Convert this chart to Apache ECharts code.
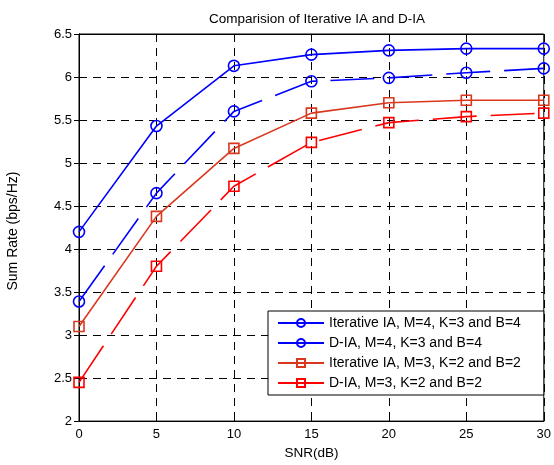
<!DOCTYPE html>
<html><head><meta charset="utf-8">
<script src="https://cdn.jsdelivr.net/npm/echarts@6/dist/echarts.min.js"></script>
<style>html,body{margin:0;padding:0;background:#fff}#c{width:554px;height:465px}</style>
</head><body><div id="c"></div>
<script>
const snr = [0, 5, 10, 15, 20, 25, 30];
const iterIA_M4 = [4.20, 5.43, 6.13, 6.26, 6.31, 6.33, 6.33];
const dIA_M4 = [3.39, 4.65, 5.60, 5.95, 5.99, 6.05, 6.10];
const iterIA_M3 = [3.10, 4.38, 5.17, 5.58, 5.70, 5.73, 5.73];
const dIA_M3 = [2.45, 3.80, 4.73, 5.24, 5.47, 5.54, 5.58];
const seriesNames = ['Iterative IA, M=4, K=3 and B=4','D-IA, M=4, K=3 and B=4','Iterative IA, M=3, K=2 and B=2','D-IA, M=3, K=2 and B=2'];

const font = 'Liberation Sans, Arial, sans-serif';
function mk(name, data, color, symbol, dashed){
  return {
    name, type:'line', data: snr.map((x,i)=>[x,data[i]]),
    symbol, symbolSize: symbol==='circle'?11:10, showAllSymbol:true,
    lineStyle:{color, width:1.6, type: dashed?[44,14]:'solid'},
    itemStyle:{color:'rgba(255,255,255,0)', borderColor:color, borderWidth:1.6},
    emphasis:{disabled:true}, animation:false, z:5
  };
}
const chart = echarts.init(document.getElementById('c'));
const axisCommon = {
  axisLine:{show:true, lineStyle:{color:'#000', width:1}},
  axisTick:{show:true, inside:true, length:5, lineStyle:{color:'#000'}},
  axisLabel:{color:'#000', fontSize:13, fontFamily:font, margin:7},
  splitLine:{show:true, lineStyle:{color:'#000', type:[8,6], width:1}}
};
chart.setOption({
  animation:false,
  title:{text:'Comparision of Iterative IA and D-IA', left:312, top:7, textAlign:'center',
    textStyle:{fontSize:13.5, fontWeight:'normal', color:'#000', fontFamily:font}},
  graphic:[{type:'text', x:13, y:231, rotation:Math.PI/2,
    style:{text:'Sum Rate (bps/Hz)', fontSize:14, fontFamily:font, fill:'#000', align:'center', verticalAlign:'middle'}}],
  grid:{left:79, right:7, top:34, bottom:39, show:true, borderColor:'#000', borderWidth:1, backgroundColor:'#fff'},
  legend:{
    data: seriesNames, orient:'vertical', left:268, top:311,
    backgroundColor:'#fff', borderColor:'#000', borderWidth:1,
    padding:[5,23,5,9], itemGap:6, itemWidth:46, itemHeight:10,
    textStyle:{fontSize:14, color:'#000', fontFamily:font},
    lineStyle:{type:'solid'}
  },
  xAxis:[
    Object.assign({type:'value', min:0, max:30, interval:5, name:'SNR(dB)', nameLocation:'middle', nameGap:23,
      nameTextStyle:{fontSize:13.5, color:'#000', fontFamily:font}}, axisCommon),
    {type:'value', position:'top', min:0, max:30, interval:5, axisLine:{show:true,lineStyle:{color:'#000'}},
      axisTick:{show:true, inside:true, length:5, lineStyle:{color:'#000'}}, axisLabel:{show:false}, splitLine:{show:false}}
  ],
  yAxis:[
    Object.assign({type:'value', min:2, max:6.5, interval:0.5}, axisCommon),
    {type:'value', position:'right', min:2, max:6.5, interval:0.5, axisLine:{show:true,lineStyle:{color:'#000'}},
      axisTick:{show:true, inside:true, length:5, lineStyle:{color:'#000'}}, axisLabel:{show:false}, splitLine:{show:false}}
  ],
  series:[
    mk(seriesNames[0], iterIA_M4, '#0000ff', 'circle', false),
    mk(seriesNames[1], dIA_M4, '#0000ff', 'circle', true),
    mk(seriesNames[2], iterIA_M3, '#d9381e', 'rect', false),
    mk(seriesNames[3], dIA_M3, '#ff0000', 'rect', true)
  ]
});
</script></body></html>
